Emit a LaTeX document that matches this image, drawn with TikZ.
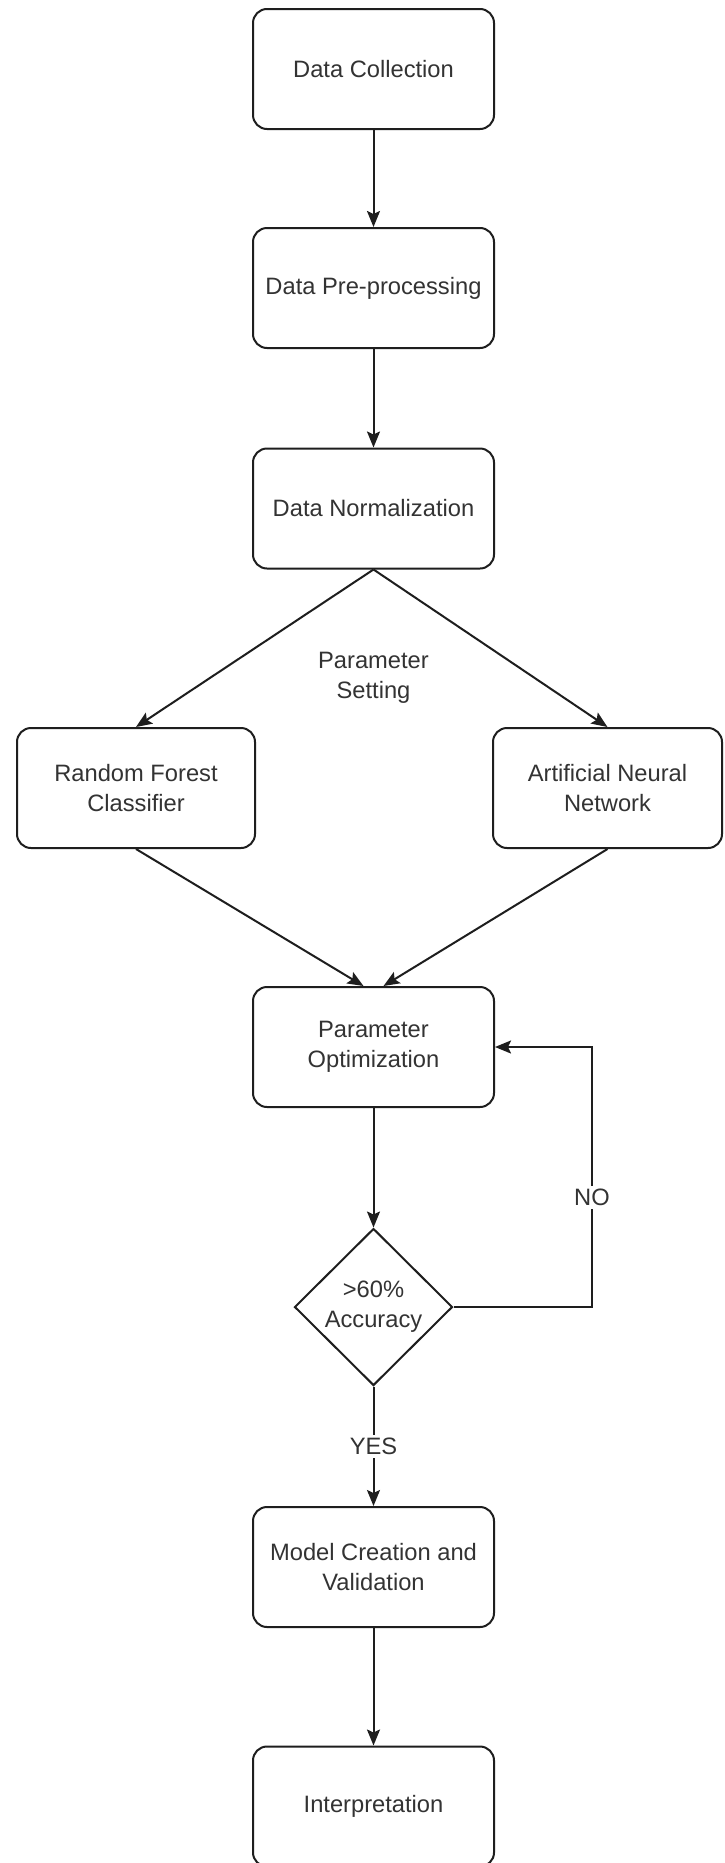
\documentclass[tikz,border=0pt]{standalone}
\usepackage{fontspec}
\setmainfont{Liberation Sans}
\usetikzlibrary{shapes.geometric,arrows.meta}

\definecolor{linec}{HTML}{1E1E1E}
\definecolor{textc}{HTML}{333333}

\newcommand{\flowfont}{\fontsize{11.85pt}{15pt}\selectfont}

\begin{document}
\begin{tikzpicture}[
  x=0.5pt, y=-0.5pt,
  stepbox/.style={draw=linec, line width=1pt, rounded corners=7pt,
    minimum width=120.5pt, minimum height=60pt, inner sep=2pt,
    align=center, text=textc, font=\flowfont},
  decision/.style={diamond, draw=linec, line width=1pt,
    minimum width=79pt, minimum height=78.5pt, inner sep=0pt,
    align=center, text=textc, font=\flowfont},
  flow/.style={draw=linec, line width=1pt,
    -{Stealth[length=8pt, width=6.5pt, inset=1.5pt]}},
  tag/.style={fill=white, text=textc, font=\flowfont, inner sep=1.5pt, align=center}
]
  % page frame
  \useasboundingbox (0,0) rectangle (724,1863);
  \fill[white] (0,0) rectangle (724,1863);
  \clip (0,0) rectangle (724,1863);

  % main column of steps
  \node[stepbox] (dc)     at (373.5,69)     {Data Collection};
  \node[stepbox] (pre)    at (373.5,288)    {Data Pre-processing};
  \node[stepbox] (norm)   at (373.5,508.5)  {Data Normalization};

  % the two classifiers
  \node[stepbox, minimum width=119pt]   (rf)  at (136,788)   {Random Forest\\Classifier};
  \node[stepbox, minimum width=114.5pt] (ann) at (607.5,788) {Artificial Neural\\Network};
  \node[tag, fill=none] (ps) at (373.5,678) {Parameter\\Setting};

  % optimisation loop and the rest
  \node[stepbox] (po)     at (373.5,1047)   {Parameter\\Optimization};
  \node[decision] (dia)   at (373.5,1307)   {>60\%\\Accuracy};
  \node[stepbox] (model)  at (373.5,1567)   {Model Creation and\\Validation};
  \node[stepbox] (interp) at (373.5,1806.5) {Interpretation};

  \coordinate (loopx) at (592,1307);

  % connectors
  \draw[flow] (dc.south) -- (pre.north);
  \draw[flow] (pre.south) -- (norm.north);
  \draw[flow] (norm.south) -- (rf.north);
  \draw[flow] (norm.south) -- (ann.north);
  \draw[flow] (rf.south) -- ([xshift=-5pt]po.north);
  \draw[flow] (ann.south) -- ([xshift=5pt]po.north);
  \draw[flow] (po.south) -- (dia.north);
  \draw[flow] (dia.east) -- (loopx)
     -- node[tag, pos=0.42] {NO} (loopx |- po.east) -- (po.east);
  \draw[flow] (dia.south) -- node[tag] {YES} (model.north);
  \draw[flow] (model.south) -- (interp.north);
\end{tikzpicture}
\end{document}
